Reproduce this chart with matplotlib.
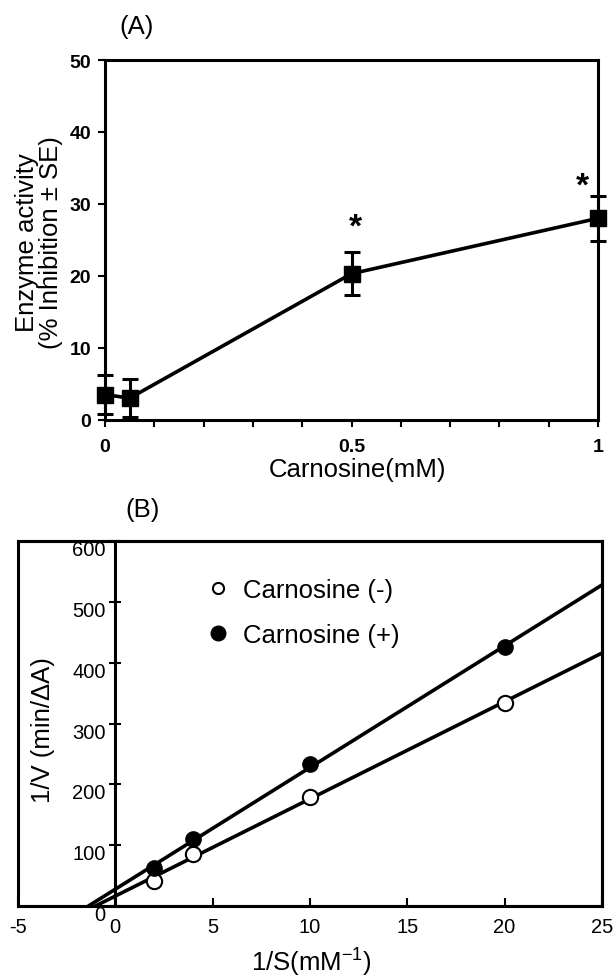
import numpy as np
import matplotlib
matplotlib.use('Agg')
import matplotlib.pyplot as plt
from matplotlib.lines import Line2D
from matplotlib.patches import Rectangle
from matplotlib.ticker import MultipleLocator
from matplotlib.transforms import ScaledTranslation

plt.rcParams['font.family'] = ['Liberation Sans', 'DejaVu Sans']
plt.rcParams['mathtext.default'] = 'regular'
plt.rcParams['axes.unicode_minus'] = False

# (A) inhibition vs carnosine
conc = [0.0, 0.05, 0.5, 1.0]
inhibition = [3.5, 3.0, 20.3, 28.0]
inhibition_se = [2.7, 2.6, 3.0, 3.1]
significant = [False, False, True, True]

# (B) double reciprocal plot
inv_s = [2, 4, 10, 20]
inv_v_minus = [41.6, 85.5, 179.7, 333.7]
inv_v_plus = [62.5, 110.0, 233.0, 425.0]
legend_labels = ['Carnosine (-)', 'Carnosine (+)']

LW = 2.2
FS_LABEL = 18.5

fig = plt.figure(figsize=(6.14, 9.78), dpi=100)
axA = fig.add_axes([0.171, 0.5698, 0.803, 0.3678])
axB = fig.add_axes([0.0293, 0.0726, 0.951, 0.3732])

# ---- panel A ----
eb = axA.errorbar(conc, inhibition, yerr=inhibition_se, fmt='s-', color='k',
                  ms=11, lw=2.6, elinewidth=2.2, capsize=6, capthick=2.2, zorder=3)
for art in eb.get_children():
    art.set_clip_on(False)

star_offsets = [None, None, (2.5, 18), (-11.5, 7)]
for x, y, e, sig, off in zip(conc, inhibition, inhibition_se, significant, star_offsets):
    if sig:
        axA.annotate('*', xy=(x, y + e), xytext=off, textcoords='offset points',
                     ha='center', va='center', fontsize=24, fontweight='bold')

axA.set_xlim(0, 1)
axA.set_ylim(0, 50)
for sp in axA.spines.values():
    sp.set_linewidth(LW)
axA.set_xticks([0, 0.5, 1])
axA.set_xticklabels(['0', '0.5', '1'])
axA.xaxis.set_minor_locator(MultipleLocator(0.1))
axA.set_yticks(range(0, 51, 10))
axA.tick_params(which='both', direction='out', length=5, width=1.5, labelsize=14)
axA.tick_params(axis='x', pad=8)
axA.tick_params(axis='y', pad=5)
for lbl in axA.get_xticklabels() + axA.get_yticklabels():
    lbl.set_fontweight('bold')
axA.set_xlabel('Carnosine(mM)', fontsize=FS_LABEL, va='center')
axA.xaxis.set_label_coords(0.513, -0.137)
axA.set_ylabel('Enzyme activity\n(% Inhibition ± SE)', fontsize=FS_LABEL,
               va='center', linespacing=1.0)
axA.yaxis.set_label_coords(-0.133, 0.494)
fig.text(137 / 614, 1 - 27 / 978, '(A)', fontsize=FS_LABEL, ha='center', va='center')

# ---- panel B ----
axB.set_xlim(-5, 25)
axB.set_ylim(0, 600)
xmax = axB.get_xlim()[1]
for vals in (inv_v_minus, inv_v_plus):
    slope, icpt = np.polyfit(inv_s, vals, 1)
    xs = np.array([-icpt / slope, xmax])
    axB.plot(xs, slope * xs + icpt, color='k', lw=2.6, zorder=2)
axB.plot(inv_s, inv_v_minus, 'o', ms=11, mfc='white', mec='k', mew=1.5, zorder=3)
axB.plot(inv_s, inv_v_plus, 'o', ms=11, mfc='k', mec='k', zorder=3)

axB.spines['left'].set_position(('data', 0))
for sp in axB.spines.values():
    sp.set_linewidth(LW)
axB.add_patch(Rectangle((0, 0), 1, 1, transform=axB.transAxes, fill=False,
                        lw=LW, ec='k', clip_on=False, zorder=2.6))

axB.set_xticks(range(-5, 26, 5))
axB.set_yticks(range(0, 601, 100))
axB.tick_params(axis='x', direction='in', length=6, width=1.5, pad=8, labelsize=14.5)
axB.tick_params(axis='y', direction='inout', length=9, width=1.5, pad=2.5, labelsize=14.5)
shift = ScaledTranslation(0, -6.5 / 100, fig.dpi_scale_trans)
for lbl in axB.get_yticklabels():
    lbl.set_transform(lbl.get_transform() + shift)

handles = [Line2D([], [], marker='o', ls='none', ms=8, mfc='white', mec='k', mew=1.5),
           Line2D([], [], marker='o', ls='none', ms=10.5, mfc='k', mec='k')]
axB.legend(handles, legend_labels, loc='upper left', bbox_to_anchor=(0.32, 0.90),
           frameon=False, fontsize=FS_LABEL, handlelength=1.0, handletextpad=0.5,
           labelspacing=0.85, borderpad=0, borderaxespad=0)

axB.set_ylabel('1/V (min/ΔA)', fontsize=FS_LABEL, va='center')
axB.yaxis.set_label_coords(0.043, 0.485)
axB.set_xlabel('1/S(mM$^{-1}$)', fontsize=FS_LABEL, va='center')
axB.xaxis.set_label_coords(0.503, -0.153)
fig.text(143 / 614, 1 - 510 / 978, '(B)', fontsize=FS_LABEL, ha='center', va='center')

fig.savefig('out.png', dpi=100)
